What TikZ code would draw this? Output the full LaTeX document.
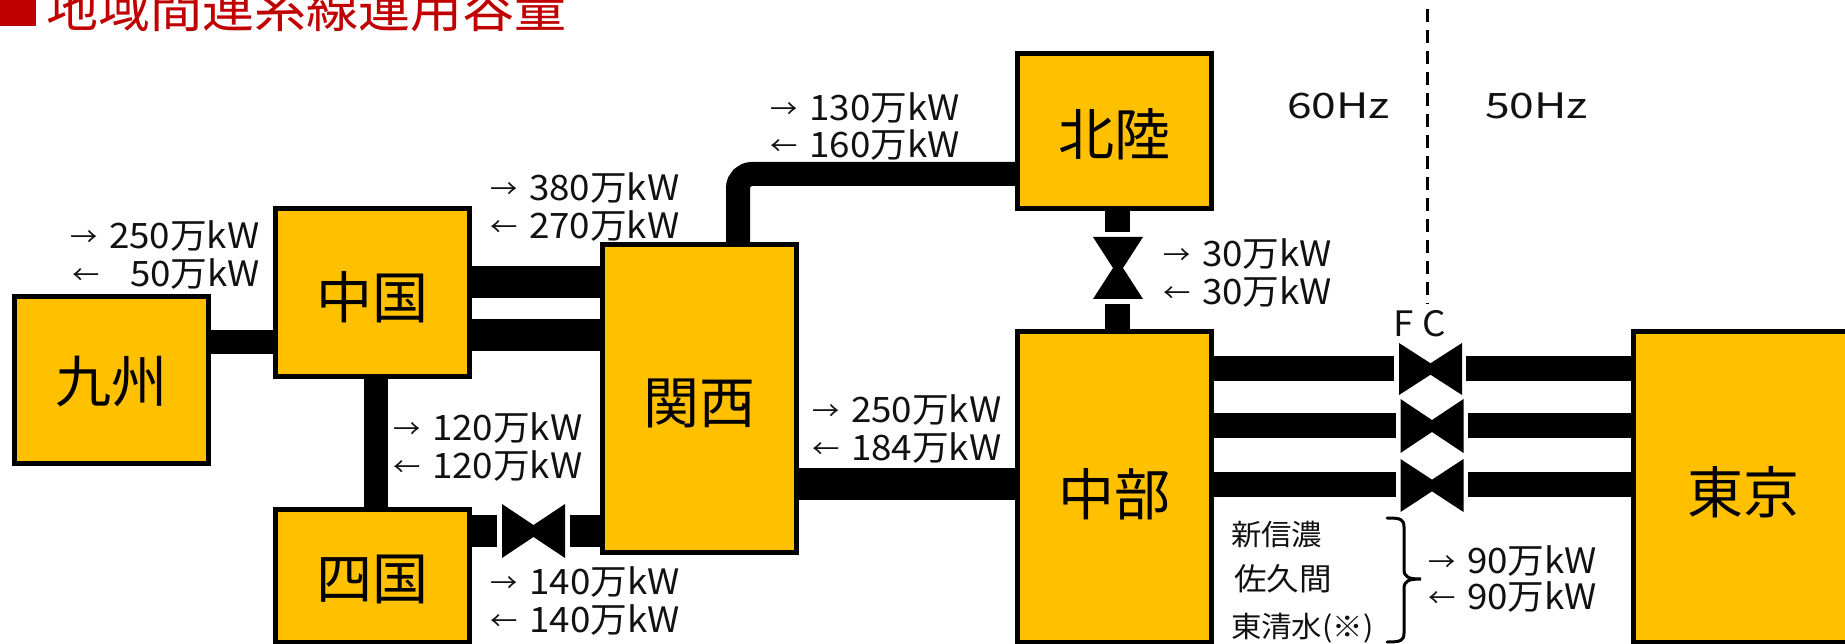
\documentclass[tikz,border=0pt]{standalone}
\usepackage{fontspec}
\usetikzlibrary{calc}
\setmainfont{Noto Sans CJK JP}
\newfontfamily\lblfont[FakeStretch=1.05]{Noto Sans CJK JP}
\newfontfamily\hzfont[FakeStretch=1.27]{Noto Sans CJK JP}
\newfontfamily\smfont[FakeStretch=1.05]{Noto Sans CJK JP}
\definecolor{boxfill}{HTML}{FFC000}
\definecolor{titlered}{HTML}{C00000}
\definecolor{inkc}{HTML}{111111}
% value labels
\newcommand\arrg[2]{\makebox[#1pt][l]{\raisebox{2pt}{\fontsize{26pt}{26pt}\selectfont #2}}}
\newcommand\rlab[2]{\arrg{#1}{→}#2}
\newcommand\llab[2]{\arrg{#1}{←}#2}
% area-name text, shifted inside its box
\newcommand\areatxt[2]{\smash{\raisebox{#1pt}{#2}}}
\newcommand\hvalve[1]{\fill[black] (#1.north west) -- ($(#1.north)!.39!(#1.south)$) -- (#1.north east) -- (#1.south east) -- ($(#1.north)!.61!(#1.south)$) -- (#1.south west) -- cycle;}
\newcommand\vvalve[1]{\fill[black] (#1.north west) -- (#1.north east) -- ($(#1.west)!.6!(#1.east)$) -- (#1.south east) -- (#1.south west) -- ($(#1.west)!.4!(#1.east)$) -- cycle;}
\tikzset{
  area/.style={draw=black,fill=boxfill,line width=5pt,inner sep=0pt,outer sep=0pt,minimum width=194pt,
     font=\fontsize{56pt}{56pt}\selectfont,text=black},
  valvebox/.style={inner sep=0pt,outer sep=0pt},
  lbl/.style={anchor=base west,inner sep=0pt,outer sep=0pt,yshift=-1.2pt,text=inkc,font=\fontsize{35pt}{35pt}\lblfont},
  hzlbl/.style={anchor=base west,inner sep=0pt,outer sep=0pt,text=inkc,font=\fontsize{35pt}{35pt}\hzfont},
  small/.style={anchor=base west,inner sep=0pt,outer sep=0pt,text=inkc,font=\fontsize{29pt}{29pt}\smfont},
  conn/.style={line width=#1,draw=black},
}
\begin{document}
\begin{tikzpicture}[x=1pt,y=-1pt]
\useasboundingbox (0,0) rectangle (1845,644);
\clip (0,0) rectangle (1845,644);
% title
\fill[titlered] (0,-5) rectangle (36,26);
\node[anchor=base west,inner sep=0pt,text=titlered,font=\fontsize{52pt}{52pt}\selectfont] (title) at (46,28) {地域間連系線運用容量};
% area boxes
\node[area,minimum height=167pt] (kyushu) at (111.5,380) {\areatxt{-23}{九州}};
\node[area,minimum height=168pt] (chugoku) at (372.5,292.5) {\areatxt{-26}{中国}};
\node[area,minimum height=308pt] (kansai) at (699.5,398.5) {\areatxt{-25}{関西}};
\node[area,minimum height=133pt] (shikoku) at (372.5,576) {\areatxt{-23}{四国}};
\node[area,minimum height=311pt] (chubu) at (1114.5,487) {\areatxt{-28}{中部}};
\node[area,minimum height=155pt] (hokuriku) at (1114.5,131) {\areatxt{-25}{北陸}};
\node[area,minimum height=311pt,minimum width=300pt] (tokyo) at (1783.5,487) {};
\node[anchor=center,inner sep=0pt,font=\fontsize{56pt}{56pt}\selectfont] (tokyotxt) at (1743.5,492) {東京};
% valves
\node[valvebox,minimum width=63pt,minimum height=54pt] (vs) at (533.5,531) {};
\node[valvebox,minimum width=50pt,minimum height=62pt] (vh) at (1118,268) {};
\node[valvebox,minimum width=63pt,minimum height=52pt] (fa) at (1430.5,369) {};
\node[valvebox,minimum width=63pt,minimum height=54pt] (fb) at (1432,426) {};
\node[valvebox,minimum width=63pt,minimum height=53pt] (fc) at (1432,485.5) {};
\hvalve{vs}\vvalve{vh}\hvalve{fa}\hvalve{fb}\hvalve{fc}
% helper coordinates
\coordinate (ky) at (0,342);
\coordinate (u1) at (0,282);
\coordinate (u2) at (0,335);
\coordinate (cs) at (376,0);
\coordinate (sk) at (0,531);
\coordinate (kc) at (0,484);
\coordinate (kh) at (738,174);
\coordinate (hc) at (1117.5,0);
\coordinate (l1) at (0,368.5);
\coordinate (l2) at (0,425);
\coordinate (l3) at (0,484.5);
% connectors
\draw[conn=24pt] (kyushu.east |- ky) -- (chugoku.west |- ky);
\draw[conn=32pt] (chugoku.east |- u1) -- (kansai.west |- u1);
\draw[conn=32pt] (chugoku.east |- u2) -- (kansai.west |- u2);
\draw[conn=24pt] (chugoku.south -| cs) -- (shikoku.north -| cs);
\draw[conn=32pt] (shikoku.east |- sk) -- ([xshift=-5pt]vs.west |- sk);
\draw[conn=32pt] ([xshift=5pt]vs.east |- sk) -- (kansai.west |- sk);
\draw[conn=32pt] (kansai.east |- kc) -- (chubu.west |- kc);
\draw[conn=24pt,rounded corners=14pt] (kh |- kansai.north) -- (kh) -- (kh -| hokuriku.west);
\draw[conn=25pt] (hokuriku.south -| hc) -- ([yshift=5pt]vh.north -| hc);
\draw[conn=25pt] ([yshift=-5pt]vh.south -| hc) -- (chubu.north -| hc);
\draw[conn=25pt] (chubu.east |- l1) -- ([xshift=-5pt]fa.west |- l1);
\draw[conn=25pt] ([xshift=4pt]fa.east |- l1) -- (tokyo.west |- l1);
\draw[conn=25pt] (chubu.east |- l2) -- ([xshift=-5pt]fb.west |- l2);
\draw[conn=25pt] ([xshift=4pt]fb.east |- l2) -- (tokyo.west |- l2);
\draw[conn=25pt] (chubu.east |- l3) -- ([xshift=-5pt]fc.west |- l3);
\draw[conn=25pt] ([xshift=4pt]fc.east |- l3) -- (tokyo.west |- l3);
% value labels
\node[lbl] (a1) at (70,247) {\rlab{39}{250万kW}};
\node[lbl] (a2) at (72,285) {\llab{58}{50万kW}};
\node[lbl] (b1) at (490,199) {\rlab{39}{380万kW}};
\node[lbl] (b2) at (490,237) {\llab{39}{270万kW}};
\node[lbl] (c1) at (770,119) {\rlab{39.5}{130万kW}};
\node[lbl] (c2) at (770,156) {\llab{39.5}{160万kW}};
\node[lbl] (d1) at (393,439) {\rlab{39}{120万kW}};
\node[lbl] (d2) at (393,477) {\llab{39}{120万kW}};
\node[lbl] (e1) at (490,593) {\rlab{39.5}{140万kW}};
\node[lbl] (e2) at (490,631) {\llab{39.5}{140万kW}};
\node[lbl] (f1) at (812,421) {\rlab{39}{250万kW}};
\node[lbl] (f2) at (812,459) {\llab{39}{184万kW}};
\node[lbl] (g1) at (1163,265) {\rlab{39}{30万kW}};
\node[lbl] (g2) at (1163,303) {\llab{39}{30万kW}};
\node[lbl] (h1) at (1428,572) {\rlab{39}{90万kW}};
\node[lbl] (h2) at (1428,608) {\llab{39}{90万kW}};
\node[hzlbl] (hz60) at (1287,119) {60Hz};
\node[hzlbl] (hz50) at (1485,119) {50Hz};
\node[lbl] (fctxt) at (1393,335) {F\hspace{9pt}C};
\node[small] (t1) at (1231,545) {新信濃};
\node[small,font=\fontsize{31pt}{31pt}\smfont] (t2) at (1234,590) {佐久間};
\node[small] (t3) at (1231,637) {東清水(※)};
% frequency boundary
\coordinate (dtop) at (1427,9);
\draw[black,line width=3pt,dash pattern=on 13pt off 8pt] (dtop) -- ([yshift=6pt]dtop |- fctxt.north);
% brace
\coordinate (br1) at (1387,518);
\coordinate (br2) at (1387,642);
\coordinate (brt) at (1421,579);
\draw[black,line width=3pt,line cap=round] (br1) .. controls (1400,518) and (1404,519) .. (1404,527) -- (1404,569) .. controls (1404,577) and (1408,579) .. (brt) .. controls (1408,579) and (1404,581) .. (1404,589) -- (1404,633) .. controls (1404,641) and (1400,642) .. (br2);
\end{tikzpicture}
\end{document}
